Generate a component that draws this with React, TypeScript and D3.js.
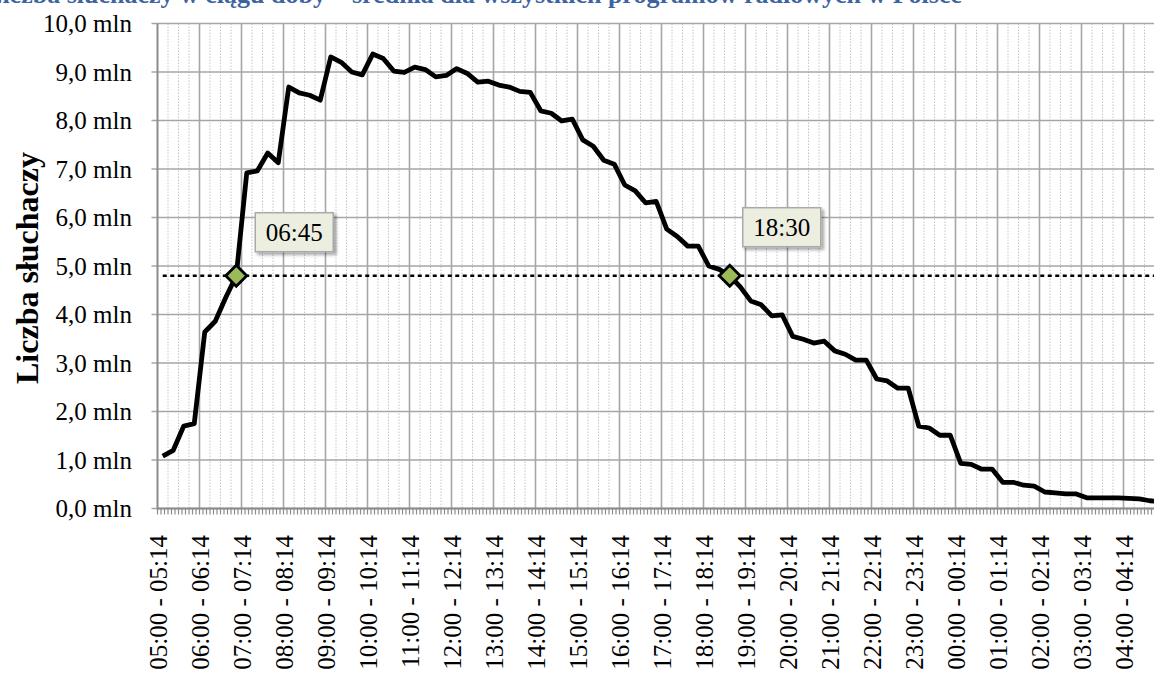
import React from 'react';
import * as d3 from 'd3';

// 15-minute slots from 05:00 to 04:45, audience in millions
const listeners = [
  1.08, 1.2, 1.7, 1.75, 3.64, 3.86, 4.35, 4.8, 6.92, 6.96, 7.33, 7.13,
  8.69, 8.57, 8.52, 8.42, 9.31, 9.2, 9.0, 8.94, 9.37, 9.28, 9.02, 8.99,
  9.1, 9.05, 8.9, 8.93, 9.07, 8.97, 8.79, 8.81, 8.73, 8.69, 8.6, 8.58,
  8.2, 8.15, 7.99, 8.03, 7.6, 7.47, 7.18, 7.1, 6.67, 6.55, 6.3, 6.33,
  5.76, 5.61, 5.41, 5.41, 5.0, 4.93, 4.8, 4.57, 4.28, 4.2, 3.97, 3.99,
  3.55, 3.49, 3.41, 3.45, 3.25, 3.18, 3.06, 3.06, 2.67, 2.63, 2.48, 2.48,
  1.7, 1.66, 1.51, 1.51, 0.93, 0.91, 0.81, 0.81, 0.54, 0.54, 0.48, 0.46,
  0.34, 0.32, 0.3, 0.3, 0.22, 0.22, 0.22, 0.22, 0.21, 0.2, 0.16, 0.14,
];

const hourLabels = [
  '05:00 - 05:14', '06:00 - 06:14', '07:00 - 07:14', '08:00 - 08:14',
  '09:00 - 09:14', '10:00 - 10:14', '11:00 - 11:14', '12:00 - 12:14',
  '13:00 - 13:14', '14:00 - 14:14', '15:00 - 15:14', '16:00 - 16:14',
  '17:00 - 17:14', '18:00 - 18:14', '19:00 - 19:14', '20:00 - 20:14',
  '21:00 - 21:14', '22:00 - 22:14', '23:00 - 23:14', '00:00 - 00:14',
  '01:00 - 01:14', '02:00 - 02:14', '03:00 - 03:14', '04:00 - 04:14',
];

const yTicks = [0, 1, 2, 3, 4, 5, 6, 7, 8, 9, 10];

const markerSlots = [7, 54];
const markerLabels = ['06:45', '18:30'];
const halfLevel = 4.8;

const chartTitle = 'Liczba słuchaczy w ciągu doby – średnia dla wszystkich programów radiowych w Polsce';
const yTitle = 'Liczba słuchaczy';

const W = 1154;
const H = 677;
const FONT = '"Liberation Serif", "Times New Roman", serif';

export default function App() {
  // minutes since 05:00 -> px
  const x = d3.scaleLinear().domain([0, 1440]).range([157.5, 1165.5]);
  const slotX = (i: number) => x(i * 15 + 7.5);
  const y = d3.scaleLinear().domain([0, 10]).range([508.5, 23.5]);

  const line = d3.line<number>()
    .x((_, i) => slotX(i))
    .y(d => y(d));

  const minorX = d3.range(15, 1440, 15).filter(m => m % 60 !== 0);
  const majorX = d3.range(60, 1441, 60);
  const smallTicks = d3.range(0, 1441, 5);
  const fmt = (v: number) => v.toFixed(1).replace('.', ',') + ' mln';

  return (
    <svg width={W} height={H} style={{ position: 'absolute', left: 0, top: 0, background: '#fff' }}
      fontFamily={FONT}>
      <defs>
        <filter id="shadow" x="-20%" y="-20%" width="150%" height="150%">
          <feDropShadow dx="2.5" dy="2.5" stdDeviation="1.8" floodColor="#000" floodOpacity="0.35" />
        </filter>
      </defs>

      <text x={962} y={3} textAnchor="end" fontSize={26} fontWeight="bold" fill="#3d64a0">{chartTitle}</text>

      {/* minor vertical grid */}
      {minorX.map(m => (
        <line key={'mn' + m} x1={x(m)} x2={x(m)} y1={y(10)} y2={y(0)}
          stroke="#c4c4c4" strokeWidth={1} strokeDasharray="1.5 1.5" />
      ))}
      {/* major vertical grid */}
      {majorX.map(m => (
        <line key={'mj' + m} x1={x(m)} x2={x(m)} y1={y(10)} y2={y(0)}
          stroke="#a6a6a6" strokeWidth={1.6} />
      ))}
      {/* horizontal grid + y ticks */}
      {yTicks.map(t => (
        <g key={'y' + t}>
          <line x1={x(0) - 6} x2={x(1440)} y1={y(t)} y2={y(t)} stroke="#a6a6a6" strokeWidth={1.6} />
          <text x={132} y={y(t)} dy="0.35em" textAnchor="end" fontSize={25} fill="#000">{fmt(t)}</text>
        </g>
      ))}

      {/* axes */}
      <line x1={x(0)} x2={x(0)} y1={y(10)} y2={y(0) + 1} stroke="#8c8c8c" strokeWidth={2} />
      <line x1={x(0)} x2={x(1440)} y1={y(0)} y2={y(0)} stroke="#8c8c8c" strokeWidth={2} />
      {smallTicks.map(m => (
        <line key={'t' + m} x1={x(m)} x2={x(m)} y1={y(0)} y2={y(0) + 6} stroke="#8c8c8c" strokeWidth={1.2} />
      ))}

      {/* x labels */}
      {hourLabels.map((l, k) => {
        const cx = slotX(k * 4) + 4;
        return (
          <text key={l} transform={`translate(${cx},535) rotate(-90)`} textAnchor="end"
            fontSize={25} fill="#000">{l}</text>
        );
      })}

      <text transform="translate(38,268) rotate(-90)" textAnchor="middle" fontSize={32}
        fontWeight="bold" fill="#000">{yTitle}</text>

      {/* threshold */}
      <line x1={slotX(0)} x2={W + 20} y1={y(halfLevel)} y2={y(halfLevel)}
        stroke="#000" strokeWidth={2.6} strokeDasharray="4 3.5" />

      <path d={line(listeners) || ''} fill="none" stroke="#000" strokeWidth={4.8} strokeLinejoin="round" />

      {markerSlots.map((s, k) => {
        const mx = slotX(s);
        const my = y(listeners[s]);
        const r = 10.5;
        const bx = mx + (k === 0 ? 19 : 13);
        const by = my - (k === 0 ? 63 : 68);
        return (
          <g key={'m' + s}>
            <path d={`M${mx},${my - r}L${mx + r},${my}L${mx},${my + r}L${mx - r},${my}Z`}
              fill="#9bbb59" stroke="#000" strokeWidth={2.8} />
            <rect x={bx} y={by} width={78} height={39} fill="#ecefe0" stroke="#a9a9a9"
              strokeWidth={1.5} filter="url(#shadow)" />
            <text x={bx + 39} y={by + 20} dy="0.35em" textAnchor="middle" fontSize={25} fill="#000">
              {markerLabels[k]}
            </text>
          </g>
        );
      })}
    </svg>
  );
}
